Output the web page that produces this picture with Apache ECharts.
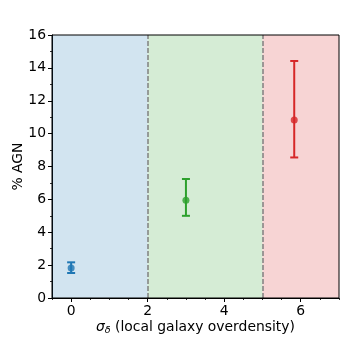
<!DOCTYPE html>
<html><head><meta charset="utf-8">
<script src="https://cdn.jsdelivr.net/npm/echarts@6/dist/echarts.min.js"></script>
<style>html,body{margin:0;padding:0;background:#fff}#c{width:350px;height:350px}</style>
</head><body><div id="c"></div>
<script>
var xs = [0, 3, 5.83];
var ys = [1.82, 5.94, 10.83];
var lo = [1.52, 5.0, 8.55];
var hi = [2.17, 7.24, 14.42];
var colors = ['#1f77b4', '#2ca02c', '#d62728'];
var regions = [[-0.5, 2], [2, 5], [5, 7]];
var regionColors = ['rgba(31,119,180,0.2)', 'rgba(44,160,44,0.2)', 'rgba(214,39,40,0.2)'];
var boundaries = [2, 5];
var xTicks = [0, 2, 4, 6];
var xMinor = [-0.5, 0.5, 1, 1.5, 2.5, 3, 3.5, 4.5, 5, 5.5, 6.5, 7];

var F = 'DejaVu Sans';
var FS = 13.9;
var chart = echarts.init(document.getElementById('c'), null, {renderer: 'canvas'});

var errData = xs.map(function (x, i) { return [x, lo[i], hi[i], i]; });
var ptData = xs.map(function (x, i) { return {value: [x, ys[i]], itemStyle: {color: colors[i]}}; });

chart.setOption({
  animation: false,
  grid: {left: 52, right: 11, top: 35, bottom: 52, containLabel: false, outerBoundsMode: 'none',
    show: true, borderColor: '#000', borderWidth: 1, backgroundColor: 'transparent', z: 10},
  xAxis: [{
    type: 'value', min: -0.5, max: 7,
    name: '{i|σ}{s|δ} (local galaxy overdensity)', nameLocation: 'middle', nameGap: 21, nameMoveOverlap: false,
    nameTextStyle: {fontFamily: F, fontSize: FS, color: '#000',
      rich: {i: {fontFamily: F, fontStyle: 'italic', fontSize: FS, color: '#000'},
             s: {fontFamily: F, fontStyle: 'italic', fontSize: 9.5, color: '#000', padding: [7, 0, 0, 0]}}},
    axisLine: {show: true, onZero: false, lineStyle: {color: '#000', width: 1}},
    axisTick: {show: true, inside: false, length: 4, lineStyle: {color: '#000'}, customValues: xTicks},
    axisLabel: {fontFamily: F, fontSize: FS, color: '#000', margin: 6, customValues: xTicks},
    splitLine: {show: false}
  }, {
    type: 'value', min: -0.5, max: 7, position: 'bottom',
    axisLine: {show: false, onZero: false},
    axisTick: {show: true, inside: false, length: 2, lineStyle: {color: '#000', width: 0.8}, customValues: xMinor},
    axisLabel: {show: false, customValues: xMinor},
    splitLine: {show: false}
  }],
  yAxis: {
    type: 'value', min: 0, max: 16, interval: 2,
    name: '% AGN', nameLocation: 'middle', nameGap: 27, nameMoveOverlap: false,
    nameTextStyle: {fontFamily: F, fontSize: FS, color: '#000'},
    axisLine: {show: true, onZero: false, lineStyle: {color: '#000', width: 1}},
    axisTick: {show: true, inside: false, length: 4, lineStyle: {color: '#000'}},
    minorTick: {show: true, splitNumber: 2, length: 2, lineStyle: {color: '#000', width: 0.8}},
    axisLabel: {fontFamily: F, fontSize: FS, color: '#000', margin: 6},
    splitLine: {show: false}
  },
  series: [{
    type: 'line', data: [], silent: true,
    markArea: {silent: true, data: regions.map(function (r, i) {
      return [{xAxis: r[0], itemStyle: {color: regionColors[i]}}, {xAxis: r[1]}];
    })},
    markLine: {silent: true, symbol: 'none', label: {show: false},
      lineStyle: {color: '#808080', type: [5, 2], width: 1.5},
      data: boundaries.map(function (b) { return {xAxis: b}; })}
  }, {
    type: 'custom', data: errData, z: 5,
    renderItem: function (params, api) {
      var x = api.value(0), i = api.value(3);
      var p1 = api.coord([x, api.value(1)]);
      var p2 = api.coord([x, api.value(2)]);
      var c = colors[i], w = 4;
      var st = {stroke: c, lineWidth: 2};
      return {type: 'group', children: [
        {type: 'line', shape: {x1: p1[0], y1: p1[1], x2: p2[0], y2: p2[1]}, style: st},
        {type: 'line', shape: {x1: p1[0] - w, y1: p1[1], x2: p1[0] + w, y2: p1[1]}, style: st},
        {type: 'line', shape: {x1: p2[0] - w, y1: p2[1], x2: p2[0] + w, y2: p2[1]}, style: st}
      ]};
    }
  }, {
    type: 'scatter', data: ptData, symbolSize: 7, z: 6
  }]
});
</script></body></html>
